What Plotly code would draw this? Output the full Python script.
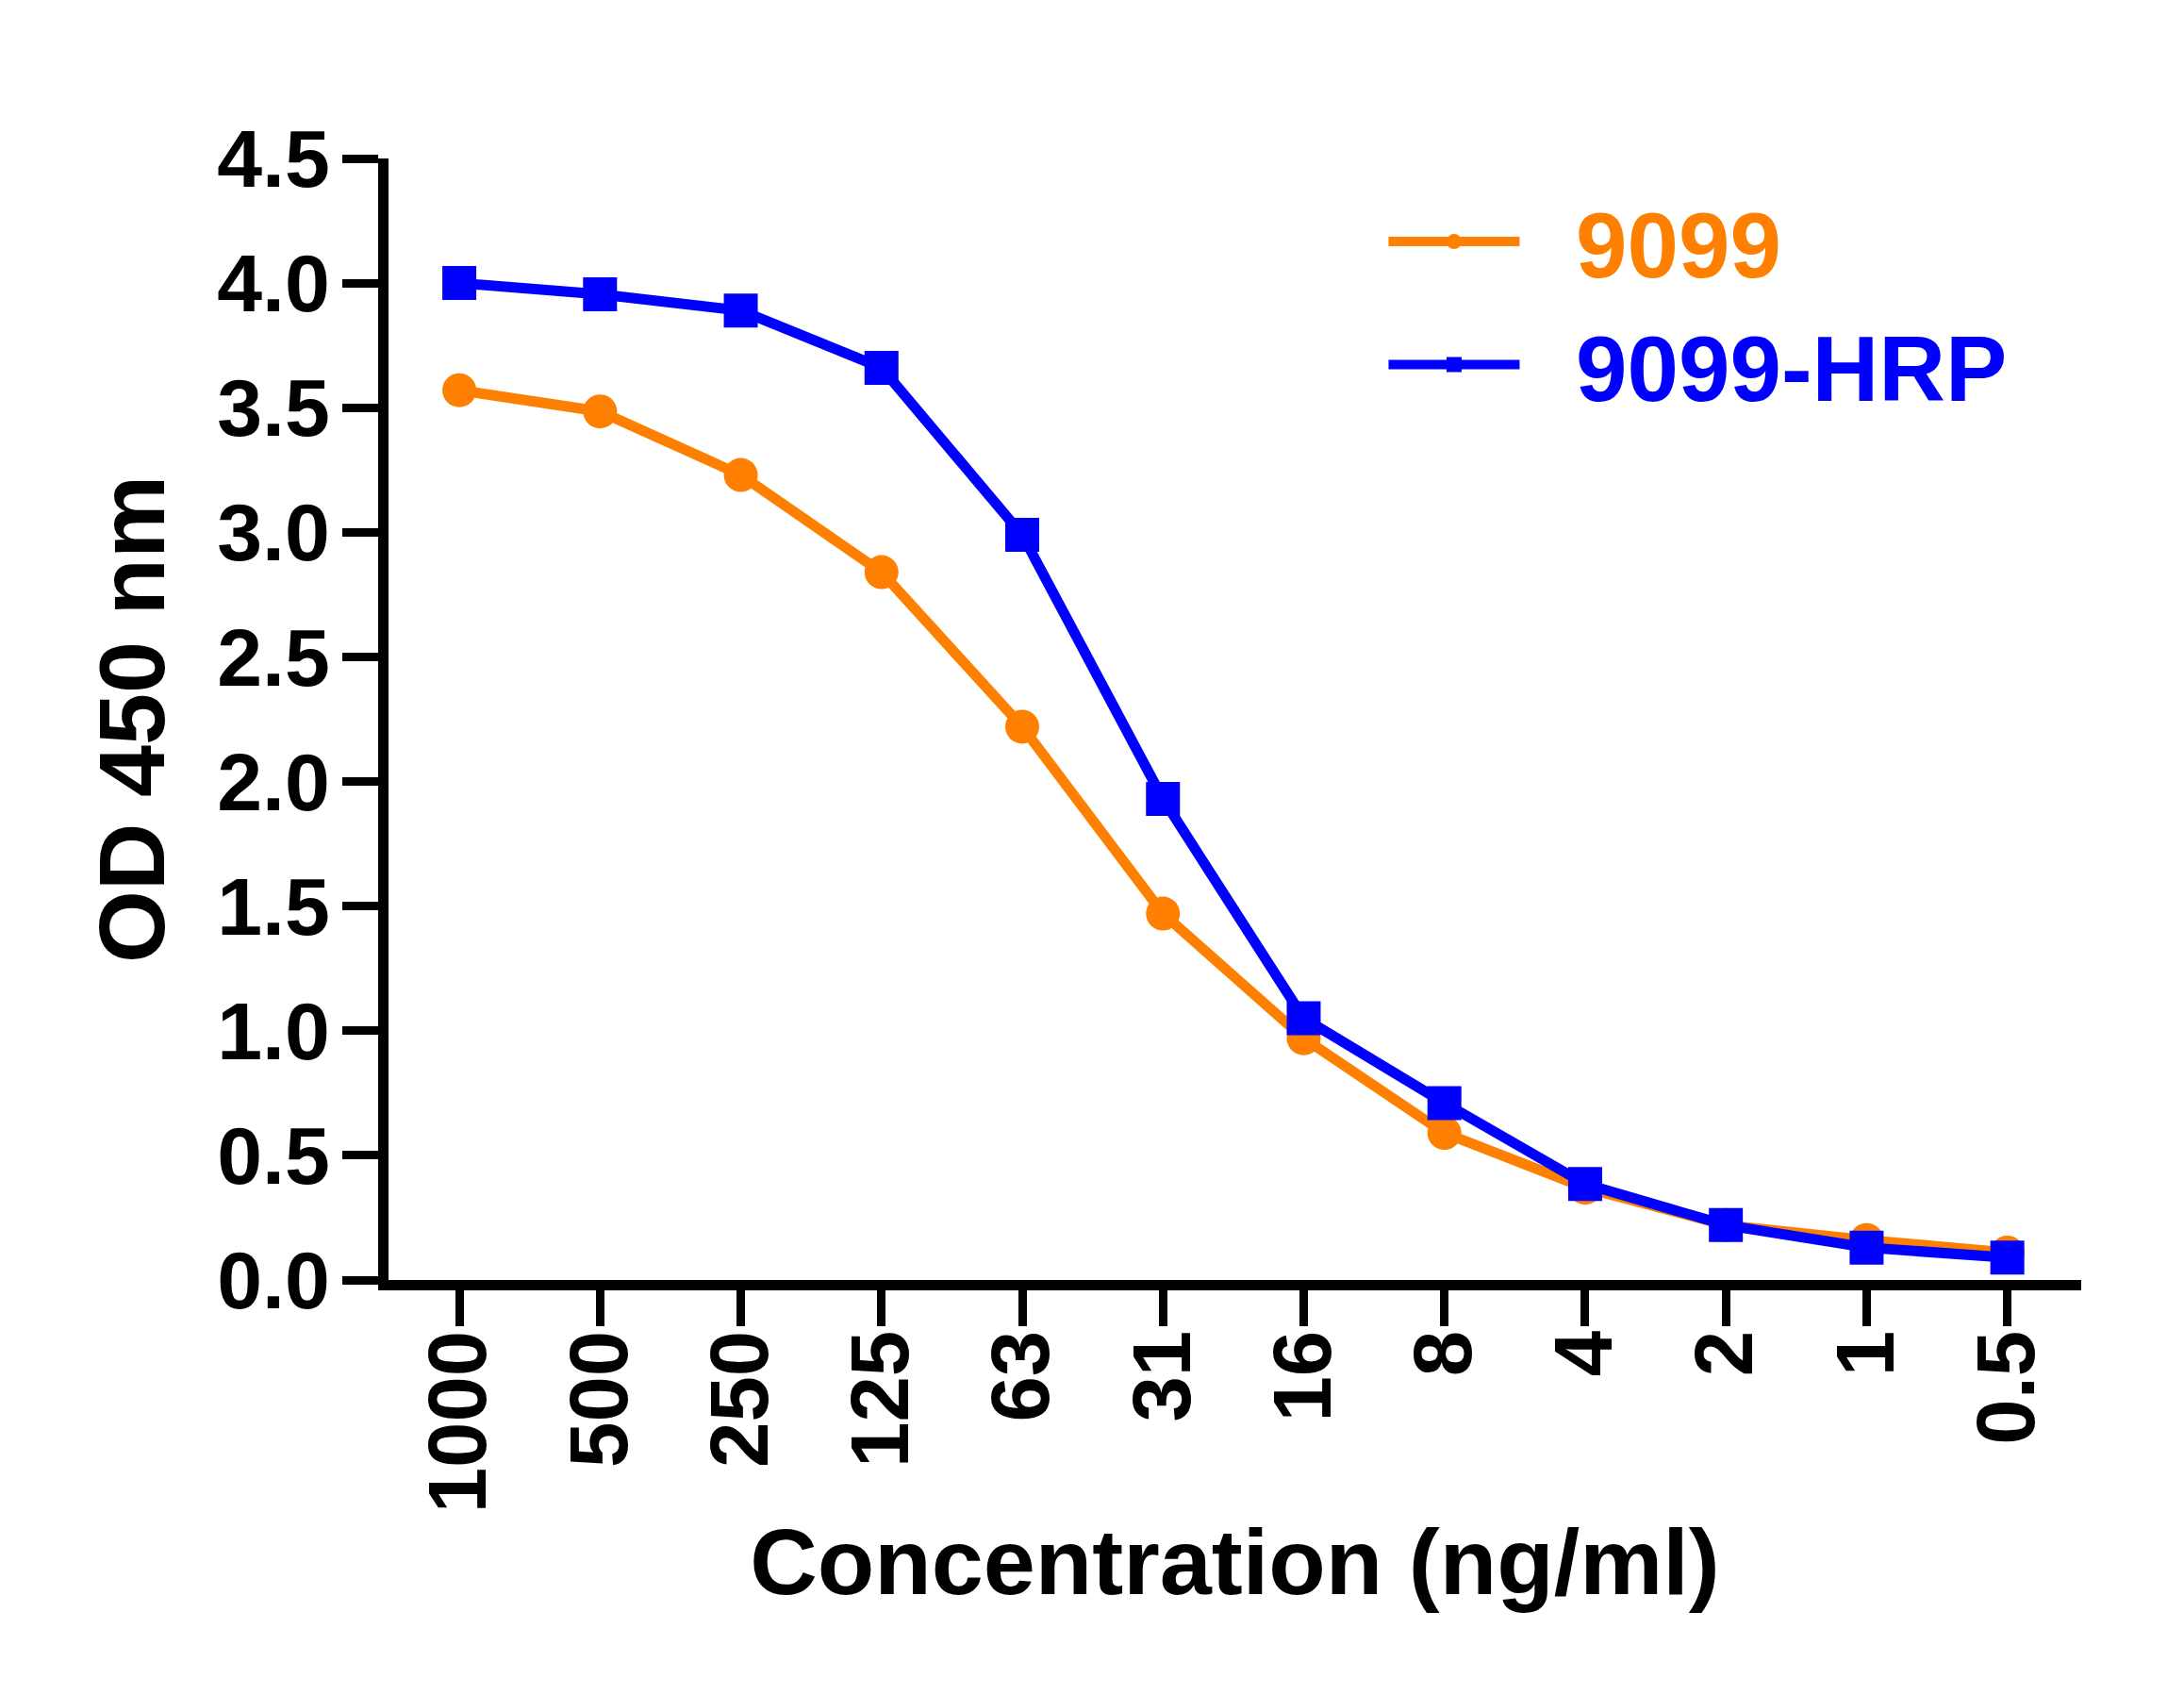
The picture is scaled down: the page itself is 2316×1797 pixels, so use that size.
import plotly.graph_objects as go

# dilution series (ng/ml) shown as categories
concentrations = ['1000', '500', '250', '125', '63', '31', '16', '8', '4', '2', '1', '0.5']

# OD 450 nm readings
od_9099 = [3.57, 3.485, 3.23, 2.84, 2.22, 1.47, 0.97, 0.59, 0.37, 0.22, 0.16, 0.11]
od_9099_hrp = [4.00, 3.955, 3.89, 3.66, 2.99, 1.93, 1.05, 0.71, 0.385, 0.22, 0.13, 0.09]

ORANGE = '#FF8000'
BLUE = '#0000FF'
FONT = 'Liberation Sans, Arial, sans-serif'
GAP = '\u00a0\u00a0'  # pushes legend text away from the symbol


def add_series(fig, y, name, color, symbol):
    """Adds one line+marker series, legend text coloured like the line."""
    fig.add_trace(go.Scatter(
        x=concentrations, y=y, mode='lines+markers',
        name='<span style="color:%s">%s%s</span>' % (color, GAP, name),
        line=dict(color=color, width=11),
        marker=dict(color=color, size=36, symbol=symbol),
        cliponaxis=False,
    ))


def main():
    fig = go.Figure()
    add_series(fig, od_9099, '9099', ORANGE, 'circle')
    add_series(fig, od_9099_hrp, '9099-HRP', BLUE, 'square')

    # the page body adds 8px around the figure, so size it 16px smaller
    fig.update_layout(
        width=2300, height=1781, autosize=False,
        margin=dict(l=404, r=101, t=160, b=432),
        plot_bgcolor='white', paper_bgcolor='white',
        font=dict(family=FONT, color='black', weight='bold'),
        legend=dict(x=0.588, y=0.985, xanchor='left', yanchor='top',
                    font=dict(size=98, family=FONT, weight='bold'),
                    itemwidth=139, bgcolor='rgba(0,0,0,0)',
                    tracegroupgap=0),
    )
    fig.update_xaxes(
        type='category', range=[-0.503, 11.525],
        showline=True, linecolor='black', linewidth=11,
        ticks='outside', ticklen=38, tickwidth=9, tickcolor='black',
        tickangle=-90, ticklabelstandoff=-30,
        tickfont=dict(size=87, family=FONT, weight='bold'),
        showgrid=False, zeroline=False,
        title=dict(text='Concentration (ng/ml)', standoff=22,
                   font=dict(size=99, family=FONT, weight='bold')),
    )
    fig.update_yaxes(
        range=[0, 4.5], dtick=0.5, tickformat='.1f',
        showline=True, linecolor='black', linewidth=11,
        ticks='outside', ticklen=38, tickwidth=9, tickcolor='black',
        ticklabelstandoff=-4,
        tickfont=dict(size=86, family=FONT, weight='bold'),
        showgrid=False, zeroline=False,
        title=dict(text='OD 450 nm', standoff=27,
                   font=dict(size=99, family=FONT, weight='bold')),
    )
    fig.write_html('out.html')


if __name__ == '__main__':
    main()
